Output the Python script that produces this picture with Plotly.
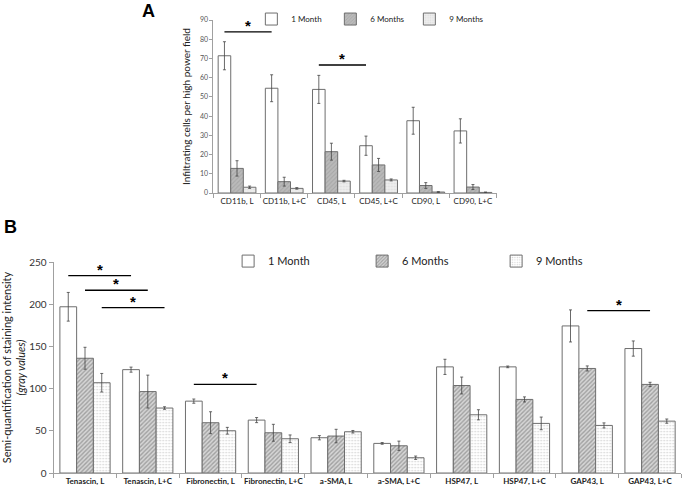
import plotly.graph_objects as go

# Panel A: infiltrating cells per high power field
a_cats = ["CD11b, L", "CD11b, L+C", "CD45, L", "CD45, L+C", "CD90, L", "CD90, L+C"]
a_1m = [71.4, 54.5, 53.9, 24.6, 37.6, 32.3]
a_1m_err = [7.3, 7.0, 7.3, 5.0, 7.0, 6.3]
a_6m = [12.8, 5.9, 21.5, 14.6, 3.9, 3.1]
a_6m_err = [4.0, 2.3, 4.4, 3.4, 1.5, 1.3]
a_9m = [3.0, 2.4, 6.2, 6.8, 0.5, 0.3]
a_9m_err = [0.6, 0.4, 0.4, 0.5, 0.2, 0.2]
# (first group, second group, bar index, level)
a_sig = [(0, 1, 0, 83.8), (2, 3, 0, 66.6)]

# Panel B: semi-quantification of staining intensity
b_cats = ["Tenascin, L", "Tenascin, L+C", "Fibronectin, L", "Fibronectin, L+C",
          "a-SMA, L", "a-SMA, L+C", "HSP47, L", "HSP47, L+C", "GAP43, L", "GAP43, L+C"]
b_1m = [197, 122.5, 85.2, 62.7, 41.8, 35.1, 125.8, 125.8, 174.3, 147.5]
b_1m_err = [17, 3, 2.5, 3, 2.5, 1, 9, 1, 19, 9]
b_6m = [136, 96.5, 59.6, 47.7, 43.8, 32.3, 103.7, 87.2, 123.9, 105]
b_6m_err = [13, 19.5, 13, 10, 8, 5.5, 10, 3, 3, 2.5]
b_9m = [107, 77, 50.1, 40.6, 48.9, 18.1, 69, 58.8, 56.4, 61.5]
b_9m_err = [11, 1.5, 4, 4.5, 1.5, 2, 6, 7.5, 3, 2.5]
b_sig = [(0, 1, 0, 234), (0, 1, 1, 216.6), (0, 1, 2, 196), (2, 3, 0, 105), (8, 9, 1, 192.5)]

series_names = ["1 Month", "6 Months", "9 Months"]

FONT = "Lato, 'Open Sans', sans-serif"
NARROW = "'Liberation Sans Narrow', Lato, sans-serif"
OUTLINE = "#6e6e6e"
BARGAP = 0.2
bar_w = (1 - BARGAP) / 3


def styles(panel):
    if panel == "a":
        six = dict(color="#b0b0b0", pattern=dict(shape="/", fgcolor="#959595", bgcolor="#bababa",
                                                  size=3, solidity=0.35))
        nine = dict(color="#e8e8e8", pattern=dict(shape=".", fgcolor="#cccccc", bgcolor="#eeeeee",
                                                   size=3, solidity=0.3))
    else:
        six = dict(color="#bdbdbd", pattern=dict(shape="/", fgcolor="#6a6a6a", bgcolor="#d6d6d6",
                                                  size=3, solidity=0.45))
        nine = dict(color="#f2f2f2", pattern=dict(shape=".", fgcolor="#a8a8a8", bgcolor="#ffffff",
                                                   size=3, solidity=0.25))
    one = dict(color="white")
    return [one, six, nine]


fig = go.Figure()

panels = [
    ("a", "x", "y", "legend", a_cats, [a_1m, a_6m, a_9m], [a_1m_err, a_6m_err, a_9m_err]),
    ("b", "x2", "y2", "legend2", b_cats, [b_1m, b_6m, b_9m], [b_1m_err, b_6m_err, b_9m_err]),
]
for panel, xa, ya, lg, cats, vals, errs in panels:
    for name, v, e, st in zip(series_names, vals, errs, styles(panel)):
        fig.add_trace(go.Bar(
            x=cats, y=v, name=name, xaxis=xa, yaxis=ya, legend=lg,
            marker=dict(**st, line=dict(color=OUTLINE, width=1)),
            error_y=dict(type="data", array=e, color="#444", thickness=0.8, width=1.5),
        ))

axis_common = dict(showgrid=False, zeroline=False, showline=True, linecolor="#a0a0a0",
                   linewidth=1, ticks="outside", tickcolor="#a0a0a0", automargin=False)

fig.update_layout(
    width=683, height=488,
    margin=dict(l=0, r=0, t=0, b=0),
    paper_bgcolor="white", plot_bgcolor="white",
    barmode="group", bargap=BARGAP, bargroupgap=0,
    font=dict(family=FONT, color="#222"),
    xaxis=dict(domain=[0.3125, 0.727], anchor="y", tickson="boundaries", ticklen=4,
               tickangle=0, tickfont=dict(size=8), **axis_common),
    yaxis=dict(domain=[0.6045, 0.959], anchor="x", range=[0, 90], dtick=10, ticklen=3,
               tickfont=dict(size=7, color="#555"),
               title=dict(text="Infiltrating cells per high power field", font=dict(size=10),
                          standoff=7),
               **axis_common),
    xaxis2=dict(domain=[0.0785, 0.9977], anchor="y2", tickson="boundaries", ticklen=4,
                tickangle=0, tickfont=dict(size=8, weight="bold", family=NARROW), **axis_common),
    yaxis2=dict(domain=[0.0307, 0.463], anchor="x2", range=[0, 250], dtick=50, ticklen=4,
                tickfont=dict(size=10, color="#333"),
                title=dict(text="Semi-quantification of staining intensity<br><i>(gray values)</i>",
                           font=dict(size=11), standoff=9),
                **axis_common),
    legend=dict(orientation="h", x=0.368, y=0.961, xanchor="left", yanchor="middle",
                font=dict(size=8), itemwidth=30, entrywidth=34, bgcolor="rgba(0,0,0,0)"),
    legend2=dict(orientation="h", x=0.334, y=0.465, xanchor="left", yanchor="middle",
                 font=dict(size=11), itemwidth=30, entrywidth=89, bgcolor="rgba(0,0,0,0)"),
)

# significance bars with asterisks
for sig, xref, yref in [(a_sig, "x", "y"), (b_sig, "x2", "y2")]:
    for g0, g1, k, level in sig:
        off = (k - 1) * bar_w
        fig.add_shape(type="line", xref=xref, yref=yref,
                      x0=g0 + off, x1=g1 + off, y0=level, y1=level,
                      line=dict(color="black", width=1.3))
        fig.add_annotation(x=(g0 + g1) / 2 + off, y=level, xref=xref, yref=yref,
                           text="<b>*</b>", showarrow=False, yanchor="bottom", yshift=-4,
                           font=dict(size=15, color="black", family="Arial"))

# panel letters
fig.add_annotation(text="<b>A</b>", x=140 / 683, y=1 - 11 / 488, xref="paper", yref="paper",
                   xanchor="left", yanchor="middle", showarrow=False,
                   font=dict(size=18, family="Arial", color="black"))
fig.add_annotation(text="<b>B</b>", x=2 / 683, y=1 - 227 / 488, xref="paper", yref="paper",
                   xanchor="left", yanchor="middle", showarrow=False,
                   font=dict(size=18, family="Arial", color="black"))

fig.write_html("out.html", config={"displayModeBar": False},
               post_script="document.body.style.margin = '0';")
